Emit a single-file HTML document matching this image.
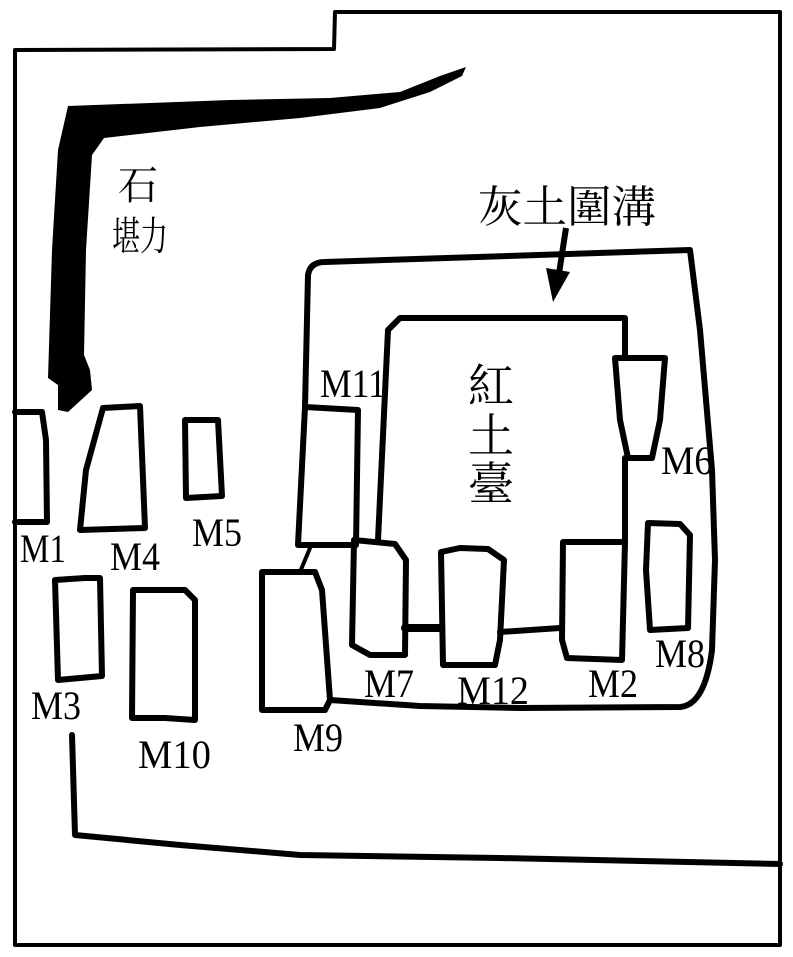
<!DOCTYPE html>
<html><head><meta charset="utf-8"><style>
html,body{margin:0;padding:0;background:#fff;}
svg{display:block;}
text{font-family:"Liberation Serif","Noto Serif CJK SC","Noto Sans CJK TC",serif;fill:#000;}
</style></head><body>
<svg width="793" height="957" viewBox="0 0 793 957" xmlns="http://www.w3.org/2000/svg">
<g fill="none" stroke="#000" stroke-linejoin="round" stroke-linecap="round">
<path d="M15,50 L334,49 L335,12 L780,12 L780,945 L15,945 Z" stroke-width="4"/>
<path d="M72,735 L75,835 L180,845 L300,855 L500,858 L780,864" stroke-width="6"/>
<path d="M305,407 L308,275 Q310,262 325,262 L690,250 L700,330 L712,470 L715,560 L712,650 Q705,705 680,707 L520,708 L420,706 L330,700" stroke-width="6"/>
<path d="M378,540 L388,330 L400,318 L625,318 L625,355" stroke-width="6"/>
<path d="M625,458 L625,540" stroke-width="6"/>
<path d="M405,628 L440,628" stroke-width="8"/>
<path d="M500,632 L560,628" stroke-width="6"/>
<path d="M15,412 L42,412 L46,440 L47,522 L15,522" stroke-width="6"/>
<path d="M103,408 L140,406 L145,528 L80,530 L86,470 Z" stroke-width="6"/>
<path d="M185,420 L218,420 L222,496 L186,498 Z" stroke-width="6"/>
<path d="M305,407 L358,410 L356,545 L298,545 Z" stroke-width="6"/>
<path d="M310,548 L300,572" stroke-width="4"/>
<path d="M354,540 L352,645 L370,655 L405,655 L406,560 L395,544 Z" stroke-width="6"/>
<path d="M441,552 L443,665 L495,665 L500,640 L504,560 L488,549 L460,548 Z" stroke-width="6"/>
<path d="M563,542 L625,542 L622,660 L567,658 L562,640 Z" stroke-width="6"/>
<path d="M648,523 L680,524 L690,535 L688,628 L650,630 L646,570 Z" stroke-width="6"/>
<path d="M615,358 L665,358 L660,420 L652,458 L628,458 L620,420 Z" stroke-width="6"/>
<path d="M55,580 L85,578 L100,578 L102,676 L58,680 Z" stroke-width="6"/>
<path d="M133,590 L185,590 L195,600 L195,720 L165,718 L132,718 Z" stroke-width="6"/>
<path d="M262,572 L315,572 L322,590 L330,700 L325,710 L262,710 Z" stroke-width="6"/>
</g>
<path d="M68,106 L230,100 L330,98 L400,92 L440,76 L466,67 L462,76 L430,92 L380,108 L300,118 L200,127 L104,138 L92,155 L86,250 L84,355 L90,370 L92,390 L68,412 L58,410 L58,385 L48,378 L52,250 L58,150 Z" fill="#000"/>
<path d="M566,228 L558,280" stroke="#000" stroke-width="6" fill="none"/>
<path d="M546,268 L570,272 L553,302 Z" fill="#000"/>
<text x="118" y="199" font-size="40">石</text>
<text x="112" y="250" font-size="40" textLength="56" lengthAdjust="spacingAndGlyphs">堪力</text>
<text x="478" y="222" font-size="44" textLength="178" lengthAdjust="spacingAndGlyphs">灰土圍溝</text>
<text x="468" y="402" font-size="46">紅</text>
<text x="468" y="452" font-size="46">土</text>
<text x="468" y="500" font-size="46">臺</text>
<g font-size="40">
<text x="20" y="562" textLength="46" lengthAdjust="spacingAndGlyphs">M1</text>
<text x="110" y="570" textLength="50" lengthAdjust="spacingAndGlyphs">M4</text>
<text x="192" y="546" textLength="50" lengthAdjust="spacingAndGlyphs">M5</text>
<text x="320" y="397" textLength="66" lengthAdjust="spacingAndGlyphs">M11</text>
<text x="661" y="474" textLength="52" lengthAdjust="spacingAndGlyphs">M6</text>
<text x="655" y="667" textLength="50" lengthAdjust="spacingAndGlyphs">M8</text>
<text x="364" y="697" textLength="50" lengthAdjust="spacingAndGlyphs">M7</text>
<text x="457" y="704" textLength="72" lengthAdjust="spacingAndGlyphs">M12</text>
<text x="588" y="697" textLength="50" lengthAdjust="spacingAndGlyphs">M2</text>
<text x="293" y="751" textLength="50" lengthAdjust="spacingAndGlyphs">M9</text>
<text x="31" y="719" textLength="50" lengthAdjust="spacingAndGlyphs">M3</text>
<text x="138" y="768" textLength="73" lengthAdjust="spacingAndGlyphs">M10</text>
</g>
</svg>
</body></html>
